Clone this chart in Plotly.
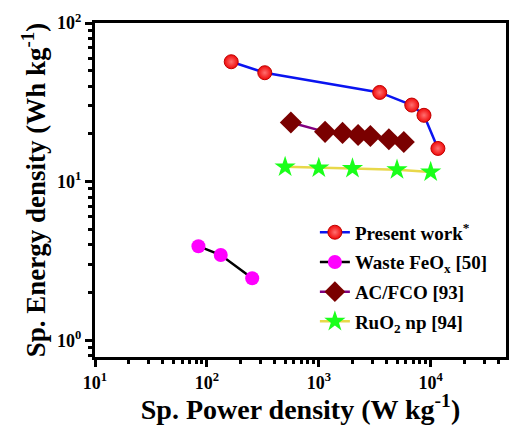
import plotly.graph_objects as go

# Data
pw_x = [165, 329, 3500, 6770, 8710, 11600]
pw_y = [57, 48.6, 36.5, 30.4, 26.2, 16.2]

fe_x = [84, 133, 254]
fe_y = [3.92, 3.45, 2.46]

ac_x = [563, 1138, 1630, 2245, 2890, 4230, 5750]
ac_y = [23.6, 20.6, 20.3, 19.7, 19.4, 18.5, 17.8]

ru_x = [500, 1000, 2000, 5000, 10000]
ru_y = [12.4, 12.2, 12.1, 11.9, 11.5]

x_ticks = [10, 100, 1000, 10000]
x_ticktext = ["10<sup>1</sup>", "10<sup>2</sup>", "10<sup>3</sup>", "10<sup>4</sup>"]
y_ticks = [1, 10, 100]
y_ticktext = ["10<sup>0</sup>", "10<sup>1</sup>", "10<sup>2</sup>"]

x_minor = [m * d for d in [10, 100, 1000, 10000] for m in range(2, 10)]
y_minor = [m * d for d in [0.1, 1, 10] for m in range(2, 10)]

FONT = "Liberation Serif"

fig = go.Figure()
fig.add_trace(go.Scatter(
    x=pw_x, y=pw_y, mode="lines+markers", name="Present work<sup>*</sup>",
    line=dict(color="#0a14f0", width=2.5),
    marker=dict(symbol="circle", size=14, color="#f00a0a",
                gradient=dict(type="radial", color="#ff7070"),
                line=dict(color="#c00000", width=1)),
    legendgroup="a"))
fig.add_trace(go.Scatter(
    x=fe_x, y=fe_y, mode="lines+markers", name="Waste FeO<sub>x</sub> [50]",
    line=dict(color="black", width=2.5),
    marker=dict(symbol="circle", size=14, color="#ff00ff"),
    legendgroup="b"))
fig.add_trace(go.Scatter(
    x=ac_x, y=ac_y, mode="lines+markers", name="AC/FCO [93]",
    line=dict(color="#800080", width=2.5),
    marker=dict(symbol="diamond", size=17, color="#7a0000"),
    legendgroup="c"))
fig.add_trace(go.Scatter(
    x=ru_x, y=ru_y, mode="lines+markers", name="RuO<sub>2</sub> np [94]",
    line=dict(color="#e8d84a", width=2.5),
    marker=dict(symbol="star", size=16, color="#1aff1a"),
    legendgroup="d"))

axis_common = dict(
    type="log", tickmode="array",
    showline=True, linecolor="black", linewidth=3, mirror=True,
    ticks="outside", ticklen=7, tickwidth=3, tickcolor="black",
    showgrid=False, zeroline=False,
    tickfont=dict(family=FONT, size=18, color="black", weight="bold"),
)

fig.update_layout(
    width=510, height=425,
    margin=dict(l=95, r=1, t=23, b=68),
    paper_bgcolor="white", plot_bgcolor="white",
    font=dict(family=FONT, color="black"),
    xaxis=dict(range=[1, 4.673], tickvals=x_ticks, ticktext=x_ticktext,
               minor=dict(tickmode="array", tickvals=x_minor, ticks="outside", ticklen=4,
                          tickwidth=3, tickcolor="black", showgrid=False),
               title=dict(text="Sp. Power density (W kg<sup>-1</sup>)", standoff=2,
                          font=dict(family=FONT, size=28, color="black", weight="bold")),
               **axis_common),
    yaxis=dict(range=[-0.105, 2], tickvals=y_ticks, ticktext=y_ticktext,
               minor=dict(tickmode="array", tickvals=y_minor, ticks="outside", ticklen=4,
                          tickwidth=3, tickcolor="black", showgrid=False),
               title=dict(text="Sp. Energy density (Wh kg<sup>-1</sup>)", standoff=4,
                          font=dict(family=FONT, size=27, color="black", weight="bold")),
               **axis_common),
    legend=dict(x=0.535, y=0.43, xanchor="left", yanchor="top",
                bgcolor="rgba(0,0,0,0)", borderwidth=0,
                tracegroupgap=2,
                font=dict(family=FONT, size=19, color="black", weight="bold")),
)

fig.write_html("out.html")
